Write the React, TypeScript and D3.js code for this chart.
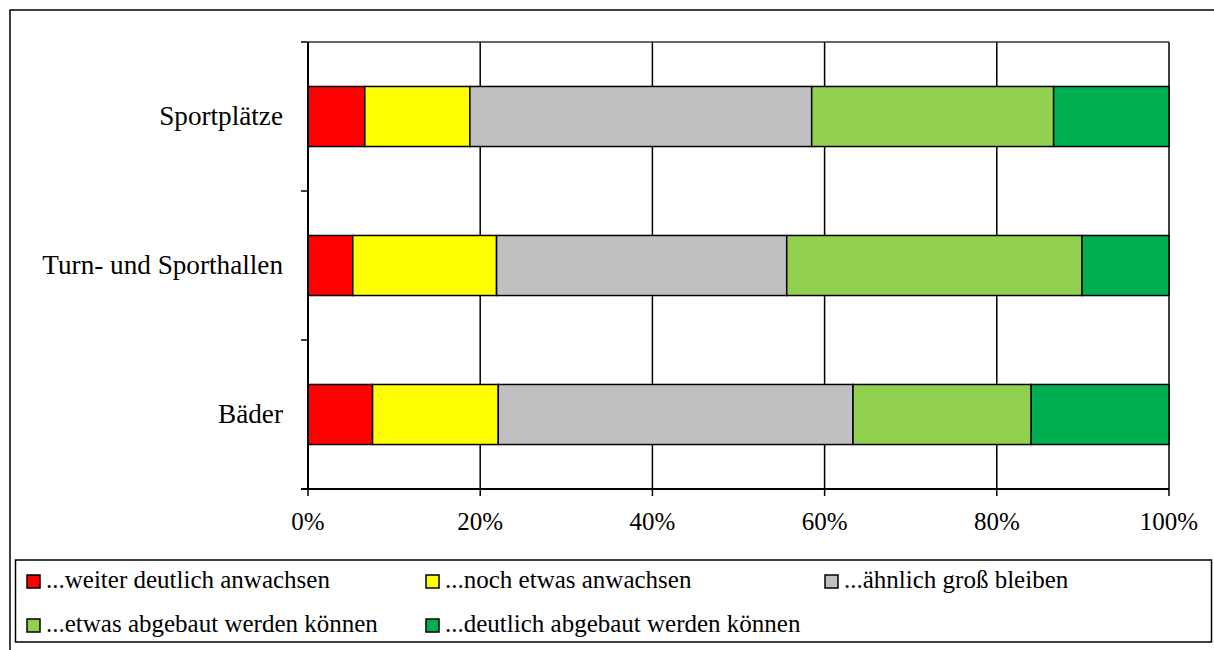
import React from "react";
import * as d3 from "d3";

const categories = ["Sportplätze", "Turn- und Sporthallen", "Bäder"];
const seriesNames = [
  "...weiter deutlich anwachsen",
  "...noch etwas anwachsen",
  "...ähnlich groß bleiben",
  "...etwas abgebaut werden können",
  "...deutlich abgebaut werden können",
];
const seriesColors = ["#FF0000", "#FFFF00", "#C0C0C0", "#92D050", "#00B050"];
const weiterDeutlich = [6.6, 5.2, 7.5];
const nochEtwas = [12.2, 16.7, 14.6];
const aehnlich = [39.7, 33.7, 41.2];
const etwasAbgebaut = [28.1, 34.3, 20.7];
const deutlichAbgebaut = [13.4, 10.1, 16.0];
const xTicks = [0, 20, 40, 60, 80, 100];

const W = 1214;
const H = 650;
const FONT = '"Liberation Serif", "DejaVu Serif", "Liberation Sans", serif';

export default function App() {
  const keys = ["s0", "s1", "s2", "s3", "s4"];
  const allSeries = [weiterDeutlich, nochEtwas, aehnlich, etwasAbgebaut, deutlichAbgebaut];
  const table = categories.map((c, i) => {
    const row: any = { cat: c };
    keys.forEach((k, j) => (row[k] = allSeries[j][i]));
    return row;
  });
  const stacked = d3.stack<any>().keys(keys)(table);

  const plot = { left: 308, right: 1169, top: 42, bottom: 489 };
  const x = d3.scaleLinear().domain([0, 100]).range([plot.left, plot.right]);
  const y = d3.scaleBand<string>().domain(categories).range([plot.top, plot.bottom]).padding(0);
  const bw = y.bandwidth();
  const bh = bw * 0.403;

  const yTickPos = [plot.top, ...categories.map((c) => (y(c) as number) + bw)];

  const legendCols = [27, 426, 825];
  const legendRows = [575, 619];

  return (
    <svg
      width={W}
      height={H}
      style={{ position: "absolute", left: 0, top: 0, background: "#fff", fontFamily: FONT }}
    >
      <rect x={0} y={0} width={W} height={H} fill="#fff" />
      <path d={`M10,${H + 5} L10,10 L${W + 5},10`} fill="none" stroke="#000" strokeWidth={1.5} />

      {xTicks.slice(1).map((t) => (
        <line key={"g" + t} x1={x(t)} x2={x(t)} y1={plot.top} y2={plot.bottom} stroke="#000" strokeWidth={1.5} />
      ))}
      <line x1={plot.left} x2={plot.right} y1={plot.top} y2={plot.top} stroke="#333" strokeWidth={1.5} />

      {stacked.map((s, j) => (
        <g key={s.key}>
          {s.map((d: any, i: number) => (
            <rect
              key={i}
              x={x(d[0])}
              y={(y(d.data.cat) as number) + (bw - bh) / 2}
              width={x(d[1]) - x(d[0])}
              height={bh}
              fill={seriesColors[j]}
              stroke="#000"
              strokeWidth={1.5}
            />
          ))}
        </g>
      ))}

      <line x1={plot.left} x2={plot.left} y1={plot.top} y2={plot.bottom} stroke="#000" strokeWidth={2} />
      {yTickPos.map((p, i) => (
        <line key={"yt" + i} x1={plot.left - 7} x2={plot.left} y1={p} y2={p} stroke="#000" strokeWidth={1.5} />
      ))}
      {categories.map((c) => (
        <text
          key={c}
          x={plot.left - 25}
          y={(y(c) as number) + bw / 2}
          dy="0.33em"
          textAnchor="end"
          fontSize={27.2}
          fill="#000"
        >
          {c}
        </text>
      ))}

      <line x1={plot.left - 7} x2={plot.right} y1={plot.bottom} y2={plot.bottom} stroke="#000" strokeWidth={2} />
      {xTicks.map((t) => (
        <g key={"xt" + t}>
          <line x1={x(t)} x2={x(t)} y1={plot.bottom} y2={plot.bottom + 7} stroke="#000" strokeWidth={1.5} />
          <text x={x(t)} y={530} textAnchor="middle" fontSize={25} fill="#000">
            {t + "%"}
          </text>
        </g>
      ))}

      <rect x={15.5} y={560} width={1196} height={82} fill="#fff" stroke="#000" strokeWidth={1.5} />
      {seriesNames.map((n, i) => {
        const col = i % 3;
        const row = Math.floor(i / 3);
        const lx = legendCols[col];
        const ly = legendRows[row];
        return (
          <g key={n}>
            <rect x={lx} y={ly} width={13} height={13} fill={seriesColors[i]} stroke="#000" strokeWidth={1.5} />
            <text x={lx + 19} y={ly + 13} fontSize={25} fill="#000">
              {n}
            </text>
          </g>
        );
      })}
    </svg>
  );
}
